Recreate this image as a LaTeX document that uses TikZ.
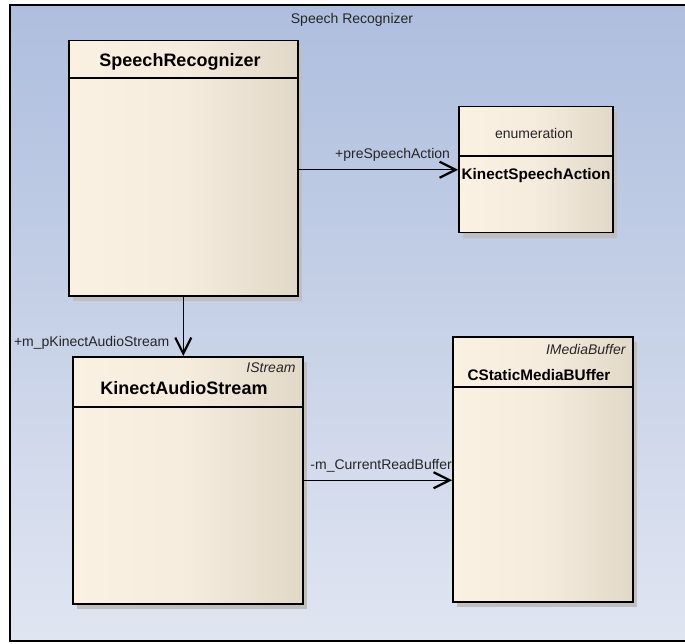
\documentclass[tikz,border=0pt]{standalone}
\usepackage{fontspec}
\setmainfont{Liberation Sans}
\usetikzlibrary{arrows.meta,shadows}

\definecolor{pkgtop}{HTML}{AEBEDE}
\definecolor{pkgbottom}{HTML}{E0E5F1}
\definecolor{classleft}{HTML}{FBF1E3}
\definecolor{classright}{HTML}{E2D8C8}
\definecolor{textgray}{HTML}{262626}

\begin{document}
\begin{tikzpicture}[x=1pt, y=-1pt,
  classbox/.style={draw=black, line width=1.5pt, inner sep=0pt, anchor=north west,
    left color=classleft, right color=classright, middle color=classleft!80!classright,
    drop shadow={shadow xshift=4pt, shadow yshift=-5pt, fill=black!25, opacity=1}},
  divider/.style={line width=1.2pt},
  bigname/.style={font=\fontsize{18}{20}\selectfont\bfseries},
  smallname/.style={font=\fontsize{15.3}{17}\selectfont\bfseries},
  plain/.style={font=\fontsize{14}{16}\selectfont, text=textgray},
  iface/.style={font=\fontsize{14}{16}\selectfont\itshape, text=textgray, anchor=east},
  assoc/.style={line width=1.3pt, -{Straight Barb[length=16pt, width=16pt, line width=2.2pt]}}
]
\useasboundingbox (0,0) rectangle (685,644);

	% package frame
\draw [line width=1.5pt, top color=pkgtop, bottom color=pkgbottom] (10,5) rectangle (690,641);
\node [plain] (pkgname) at (352,20) {Speech Recognizer};

	% SpeechRecognizer
\node [classbox, minimum width=229pt, minimum height=255pt] (sr) at (68,40) {};
\draw [divider] ([yshift=-38pt]sr.north west) -- ([yshift=-38pt]sr.north east);
\node [bigname] (srname) at (180,62) {SpeechRecognizer};

	% KinectSpeechAction
\node [classbox, minimum width=154pt, minimum height=126pt] (ksa) at (458,106) {};
\draw [divider] ([yshift=-50pt]ksa.north west) -- ([yshift=-50pt]ksa.north east);
\node [plain] (ksastereo) at (534,133) {enumeration};
\node [smallname] (ksaname) at (536,176) {KinectSpeechAction};

	% KinectAudioStream
\node [classbox, minimum width=230pt, minimum height=247pt] (kas) at (72,356) {};
\draw [divider] ([yshift=-51pt]kas.north west) -- ([yshift=-51pt]kas.north east);
\node [iface] (kasiface) at (299,368) {IStream};
\node [bigname] (kasname) at (184,388) {KinectAudioStream};

	% CStaticMediaBUffer
\node [classbox, minimum width=180pt, minimum height=265pt] (csmb) at (452,336) {};
\draw [divider] ([yshift=-51pt]csmb.north west) -- ([yshift=-51pt]csmb.north east);
\node [iface] (csmbiface) at (629,349) {IMediaBuffer};
\node [smallname] (csmbname) at (539,375) {CStaticMediaBUffer};

	% associations
\draw [assoc] (sr.east |- ksa.west) -- (ksa.west)
  node [plain, anchor=base east, xshift=-4pt, yshift=11pt] (presa) {+preSpeechAction};
\draw [assoc] (sr.south) -- (sr.south |- kas.north)
  node [plain, anchor=base east, xshift=-10pt, yshift=10pt] (pkas) {+m\_pKinectAudioStream};
\draw [assoc] (kas.east) -- node [pos=0, plain, anchor=base west, xshift=3pt, yshift=11pt] (crb) {-m\_CurrentReadBuffer} (kas.east -| csmb.west);

\end{tikzpicture}
\end{document}
